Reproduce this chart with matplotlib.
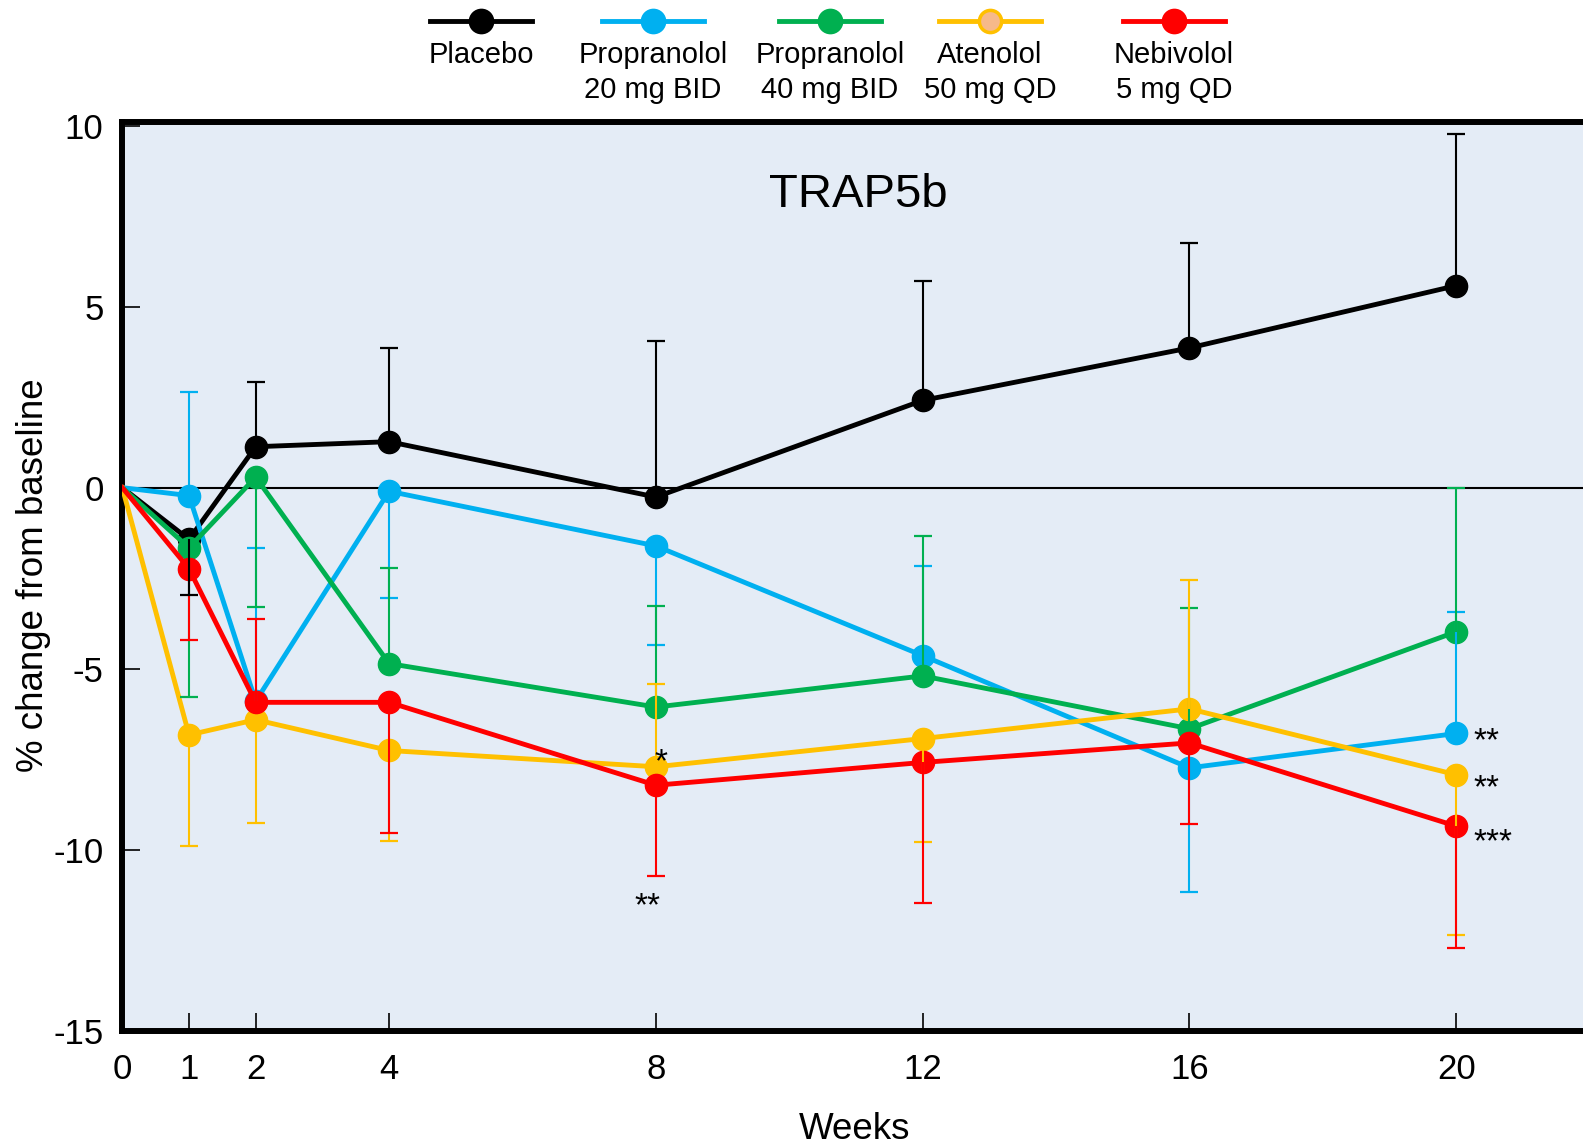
import numpy as np
import matplotlib
matplotlib.use('Agg')
import matplotlib.pyplot as plt
from matplotlib.lines import Line2D

plt.rcParams['font.family'] = ['Liberation Sans', 'DejaVu Sans']

weeks = [0, 1, 2, 4, 8, 12, 16, 20]

# mean % change, and the end of the (one-sided) error bar
placebo = [0, -1.43, 1.13, 1.27, -0.26, 2.41, 3.86, 5.58]
placebo_err = [np.nan, -2.97, 2.91, 3.86, 4.06, 5.72, 6.75, 9.78]
prop20 = [0, -0.22, -5.90, -0.10, -1.61, -4.64, -7.74, -6.79]
prop20_err = [np.nan, 2.63, -1.66, -3.04, -4.36, -2.17, -11.18, -3.44]
prop40 = [0, -1.66, 0.29, -4.86, -6.06, -5.20, -6.66, -3.98]
prop40_err = [np.nan, -5.79, -3.31, -2.21, -3.27, -1.33, -3.32, 0.0]
aten = [0, -6.83, -6.41, -7.26, -7.71, -6.93, -6.11, -7.93]
aten_err = [np.nan, -9.90, -9.27, -9.77, -5.43, -9.80, -2.54, -12.36]
nebi = [0, -2.24, -5.93, -5.93, -8.22, -7.59, -7.05, -9.35]
nebi_err = [np.nan, -4.21, -3.64, -9.55, -10.73, -11.47, -9.28, -12.72]

names = ['Placebo', 'Propranolol\n20 mg BID', 'Propranolol\n40 mg BID',
         'Atenolol\n50 mg QD', 'Nebivolol\n5 mg QD']
colors = ['#000000', '#00B0F0', '#00B050', '#FFC000', '#FF0000']
series = [placebo, prop20, prop40, aten, nebi]
errs = [placebo_err, prop20_err, prop40_err, aten_err, nebi_err]

# significance marks: (week, value, text, ha)
stars = [(7.98, -7.83, '*', 'left'), (7.88, -11.80, '**', 'center'),
         (20.26, -7.25, '**', 'left'), (20.26, -8.54, '**', 'left'),
         (20.26, -10.03, '***', 'left')]

W, H = 1583, 1148
fig = plt.figure(figsize=(W / 100, H / 100), dpi=100)
ax = fig.add_axes([122.3 / W, 1 - 1030.7 / H, (W - 122.3) / W, (1030.7 - 122) / H])
ax.set_facecolor('#E4ECF6')
ax.set_xlim(0.08, 21.9)
ax.set_ylim(-14.95, 10.1)

ax.axhline(0, color='black', lw=1.5, zorder=2)

x = np.array(weeks)
for s, c in zip(series, colors):
    ax.plot(x, s, color=c, lw=3.5, marker='o', ms=16, markevery=list(range(1, len(x))),
            zorder=3)

order = [1, 2, 3, 4, 0]
for i in order:
    y = np.array(series[i])[1:]
    e = np.array(errs[i])[1:]
    ax.vlines(x[1:], y, e, color=colors[i], lw=1.5, zorder=4)
    ax.plot(x[1:], e, ls='none', marker='_', ms=13.5, mew=1.6, color=colors[i], zorder=4)

for wx, wy, t, ha in stars:
    ax.text(wx, wy, t, fontsize=24, ha=ha, va='baseline', zorder=5)

ax.text(0.504, 0.92, 'TRAP5b', transform=ax.transAxes, fontsize=34,
        ha='center', va='center')

for sp in ['left', 'bottom', 'top']:
    ax.spines[sp].set_linewidth(4.3)
ax.spines['right'].set_visible(False)

ax.set_xticks(weeks)
ax.set_xticklabels([str(w) for w in weeks])
yt = [-15, -10, -5, 0, 5, 10]
ax.set_yticks(yt)
ax.set_yticklabels([str(v) for v in yt])
ax.tick_params(axis='both', direction='in', length=13, width=1.2, labelsize=25)
ax.tick_params(axis='y', pad=13.5, right=False)
ax.tick_params(axis='x', pad=16, top=False)

ax.set_xlabel('Weeks', fontsize=26.5, va='center')
ax.xaxis.set_label_coords(0.501, -0.109)
ax.set_ylabel('% change from baseline', fontsize=26.5, va='center')
ax.yaxis.set_label_coords(-0.061, 0.501)

# legend across the top: line + marker above a two-line label
centers = [481, 653, 830, 990, 1174]
for nm, c, cx in zip(names, colors, centers):
    fc = '#F6B98A' if c == '#FFC000' else c
    fig.add_artist(Line2D([(cx - 51) / W, (cx + 51) / W], [1 - 20.5 / H] * 2,
                          transform=fig.transFigure, color=c, lw=3.5))
    fig.add_artist(Line2D([cx / W], [1 - 20.5 / H], transform=fig.transFigure,
                          ls='none', marker='o', ms=16, mfc=fc, mec=c, mew=2.5))
    lines = nm.split('\n')
    for k, ln in enumerate(lines):
        fig.text(cx / W, 1 - (55 + 35.5 * k) / H, ln, fontsize=21,
                 ha='center', va='center')

fig.savefig('out.png', dpi=100)
